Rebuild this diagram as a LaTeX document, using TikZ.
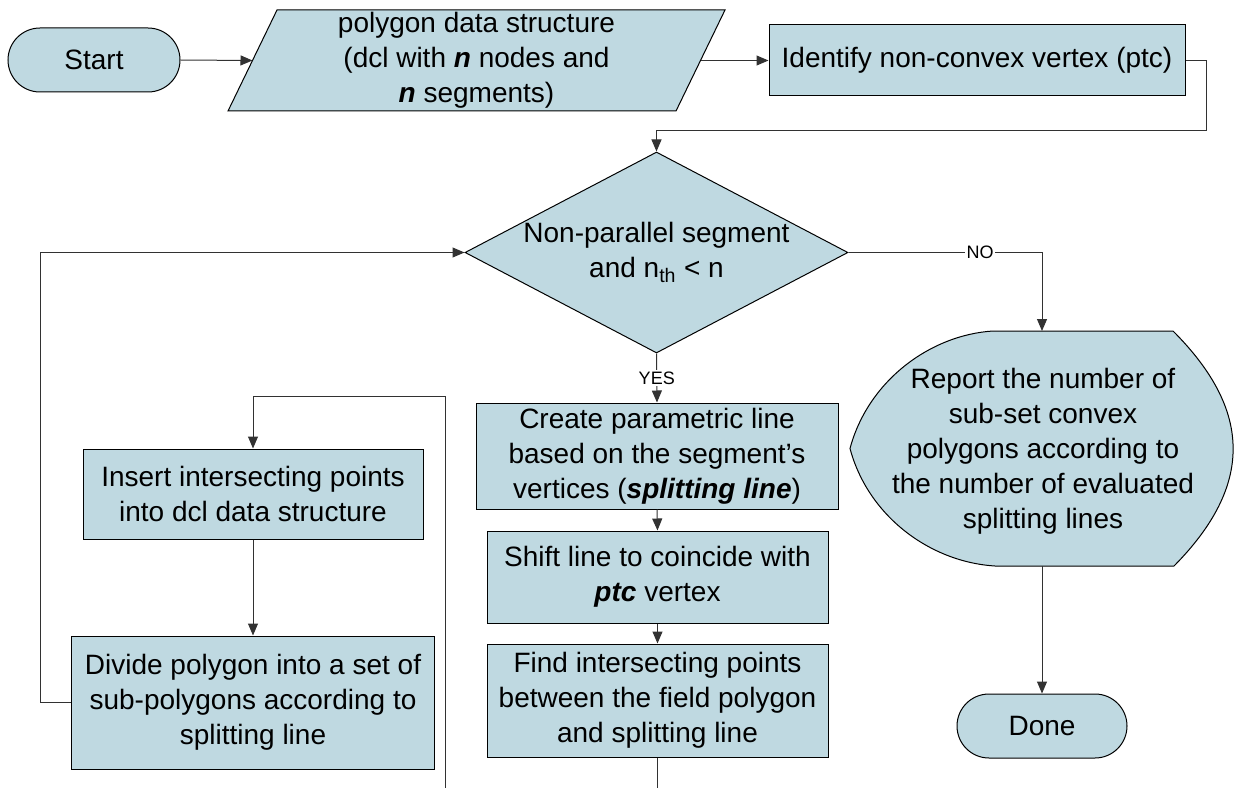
\documentclass[tikz,border=0pt]{standalone}
\usepackage{fontspec}
\setmainfont{Liberation Sans}
\usetikzlibrary{shapes.misc,shapes.geometric,arrows.meta}
\definecolor{shapefill}{RGB}{191,217,225}
\definecolor{connline}{RGB}{50,50,50}
\begin{document}
\begin{tikzpicture}[x=0.75pt,y=-0.75pt,
  every node/.style={font=\fontsize{21}{26.25}\selectfont, align=center},
  shapeline/.style={draw=black, line width=0.75pt, fill=shapefill},
  procbox/.style={shapeline, rectangle, inner sep=0pt},
  termbox/.style={shapeline, rounded rectangle, inner sep=0pt},
  conn/.style={draw=connline, line width=0.75pt},
  arr/.style={conn, -{Triangle[length=9pt,width=7.5pt]}},
  lbl/.style={fill=white, inner sep=1pt, font=\fontsize{13.5}{16}\selectfont}
]
\useasboundingbox (0,0) rectangle (1239,788);
\clip (0,0) rectangle (1239,788);

% shapes
\node[termbox, minimum width=129pt, minimum height=48pt] (start) at (94,60) {Start};

\draw[shapeline] (228,111) -- (277,10) -- (725,10) -- (676,111) -- cycle;
\node (data) at (476.5,60.5) {polygon data structure\\(dcl with \textbf{\textit{n}} nodes and\\\textbf{\textit{n}} segments)};
\coordinate (dataL) at (252.5,60.5);
\coordinate (dataR) at (700.5,60.5);

\node[procbox, minimum width=312pt, minimum height=53.25pt] (ident) at (977,60.5) {Identify non-convex vertex (ptc)};

\node[shapeline, diamond, inner sep=0pt, minimum width=287.25pt, minimum height=150.75pt] (dec) at (656.5,252.5) {};
\node (dectext) at (656.5,252.5) {Non-parallel segment\\and n\textsubscript{th} < n};

\node[procbox, minimum width=271.5pt, minimum height=79.5pt] (create) at (657,456) {Create parametric line\\based on the segment’s\\vertices (\textbf{\textit{splitting line}})};
\node[procbox, minimum width=255.75pt, minimum height=69pt] (shift) at (657.5,577) {Shift line to coincide with\\\textbf{\textit{ptc}} vertex};
\node[procbox, minimum width=255.75pt, minimum height=84.75pt] (find) at (657.5,700.5) {Find intersecting points\\between the field polygon\\and splitting line};

\node[procbox, minimum width=255pt, minimum height=67.5pt] (insert) at (253,494) {Insert intersecting points\\into dcl data structure};
\node[procbox, minimum width=272.25pt, minimum height=99.75pt] (divide) at (253,702.5) {Divide polygon into a set of\\sub-polygons according to\\splitting line};

\draw[shapeline] (993,331) -- (1173,331)
  .. controls (1253,411) and (1253,486) .. (1174,566)
  -- (995,566)
  .. controls (930,562) and (868,516) .. (850,448.5)
  .. controls (868,381) and (930,335) .. (993,331) -- cycle;
\node (rep) at (1043,451) {Report the number of\\sub-set convex\\polygons according to\\the number of evaluated\\splitting lines};
\coordinate (repT) at (1042,331);
\coordinate (repB) at (1042,566);

\node[termbox, minimum width=127.5pt, minimum height=48pt] (done) at (1042,726) {Done};

% connectors
\coordinate (c1) at (1206,131);
\coordinate (cA) at (657.5,800);
\coordinate (cB) at (445,396);
\coordinate (cL) at (40,252.5);

\draw[arr] (start.east) -- (dataL);
\draw[arr] (dataR) -- (ident.west);
\draw[arr] (ident.east) -| (c1) -| (dec.north);
\draw[arr] (dec.east) -| node[lbl, pos=0.34] {NO} (repT);
\draw[arr] (dec.south) -- node[lbl] {YES} (create.north);
\draw[arr] (create.south) -- (shift.north);
\draw[arr] (shift.south) -- (find.north);
\draw[arr] (find.south) -- (cA) -| (cB) -| (insert.north);
\draw[arr] (insert.south) -- (divide.north);
\draw[arr] (divide.west) -| (cL) -- (dec.west);
\draw[arr] (repB) -- (done.north);
\end{tikzpicture}
\end{document}
